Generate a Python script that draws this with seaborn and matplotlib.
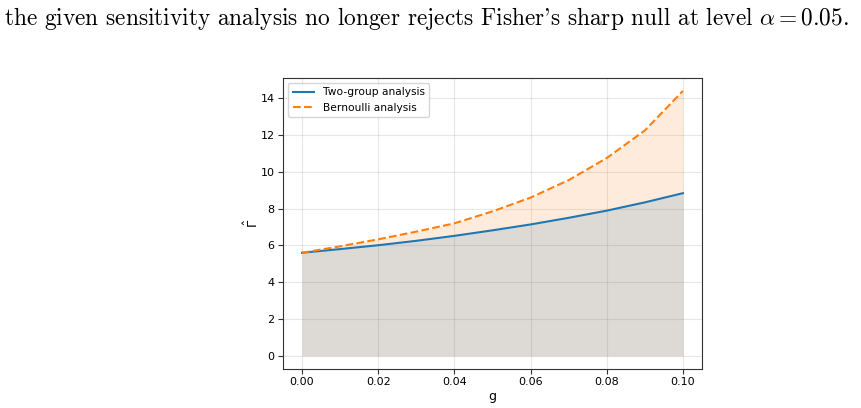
import numpy as np
import pandas as pd
import matplotlib
matplotlib.use("Agg")
import matplotlib.pyplot as plt
import seaborn as sns

g_values = [0.00, 0.01, 0.02, 0.03, 0.04, 0.05, 0.06, 0.07, 0.08, 0.09, 0.10]
two_group = [5.60, 5.80, 6.01, 6.25, 6.52, 6.82, 7.14, 7.50, 7.89, 8.34, 8.84]
bernoulli = [5.60, 5.95, 6.33, 6.75, 7.20, 7.85, 8.60, 9.55, 10.75, 12.25, 14.40]
series_names = ["Two-group analysis", "Bernoulli analysis"]
caption = r"the given sensitivity analysis no longer rejects Fisher's sharp null at level $\alpha = 0.05$."

plt.rcParams["font.family"] = ["DejaVu Sans"]

df = pd.DataFrame({
    "g": g_values * 2,
    "gamma": two_group + bernoulli,
    "series": [series_names[0]] * len(g_values) + [series_names[1]] * len(g_values),
})

fig = plt.figure(figsize=(8.61, 4.08), dpi=100)
ax = fig.add_axes([0.3287, 0.0956, 0.4866, 0.714])

blue = "#1f77b4"
orange = "#ff7f0e"
sns.lineplot(data=df, x="g", y="gamma", hue="series", style="series",
             palette=[blue, orange], dashes=[(None, None), (3.7, 1.6)],
             linewidth=1.5, ax=ax)
ax.fill_between(g_values, 0, bernoulli, color=orange, alpha=0.15, linewidth=0)
ax.fill_between(g_values, 0, two_group, color=blue, alpha=0.15, linewidth=0)

ax.set_xticks([0.0, 0.02, 0.04, 0.06, 0.08, 0.10])
ax.set_xticklabels(["0.00", "0.02", "0.04", "0.06", "0.08", "0.10"])
ax.set_yticks([0, 2, 4, 6, 8, 10, 12, 14])
ax.tick_params(labelsize=8, length=3.5, width=0.8, color="#333333", pad=2.5)
ax.grid(True, color="#b0b0b0", alpha=0.3, linewidth=0.8)
ax.set_axisbelow(True)
for s in ax.spines.values():
    s.set_linewidth(0.8)
    s.set_color("#333333")
ax.set_xlabel("g", fontsize=9, labelpad=2)
ax.set_ylabel(r"$\hat{\Gamma}$", fontsize=9.5, labelpad=0)
ax.margins(x=0.05, y=0.05)

leg = ax.legend(loc="upper left", fontsize=7.7, frameon=True, title=None)

fig.text(0.005, 0.955, caption, fontsize=16.8, family="cmr10",
         math_fontfamily="cm", ha="left", va="center")

fig.savefig("out.png", dpi=100)
